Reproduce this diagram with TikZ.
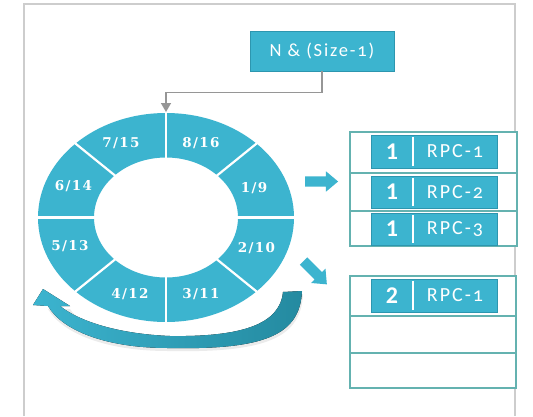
\documentclass[tikz,border=0pt]{standalone}
\usepackage{fontspec}
\usetikzlibrary{arrows.meta,shapes.arrows}

\newfontfamily\capfont{Carlito}[Numbers=OldStyle,LetterSpace=10]
\newfontfamily\numfont{Carlito}
\newfontfamily\segfont{DejaVu Serif}[LetterSpace=10]

\definecolor{ringblue}{RGB}{60,180,207}
\definecolor{boxedge}{RGB}{45,150,175}
\definecolor{arrowdark}{RGB}{36,138,160}
\definecolor{tableedge}{RGB}{100,178,176}
\definecolor{framegray}{RGB}{205,205,205}
\definecolor{conngray}{RGB}{150,150,150}

\tikzset{
  topbox/.style={fill=ringblue, draw=boxedge, line width=0.8pt,
    minimum width=144pt, minimum height=40pt, inner sep=0pt,
    text=white, font=\capfont\fontsize{18.5}{20}\selectfont},
  conn/.style={draw=conngray, line width=1.4pt,
    -{Triangle[width=10pt,length=9pt]}},
  seglabel/.style={text=white, inner sep=0pt, anchor=base,
    font=\segfont\bfseries\fontsize{13.5}{15}\selectfont},
  segline/.style={white, line width=2.2pt},
  blockarrow/.style={single arrow, fill=ringblue, draw=none,
    minimum height=33pt, inner xsep=0pt, inner ysep=5pt,
    single arrow head extend=5pt, single arrow tip angle=80},
  tablebox/.style={draw=tableedge, line width=1.5pt, fill=white, inner sep=0pt},
  tableline/.style={draw=tableedge, line width=1.2pt},
  rowbox/.style={fill=ringblue, draw=boxedge, line width=0.8pt,
    minimum width=126pt, inner sep=0pt},
  numcell/.style={text=white, inner sep=0pt, minimum width=42pt,
    font=\numfont\bfseries\fontsize{24}{26}\selectfont},
  rpccell/.style={text=white, inner sep=0pt,
    font=\capfont\fontsize{20}{22}\selectfont},
  cellsplit/.style={white, line width=2pt}
}

\begin{document}
\begin{tikzpicture}[x=1pt,y=-1pt]
\useasboundingbox (0,0) rectangle (533,416);
\fill[white] (0,0) rectangle (533,416);

% page frame
\draw[framegray, line width=2pt] (24,416) -- (24,4) -- (515,4) -- (515,416);

% ring of eight segments
\fill[ringblue, even odd rule]
  (166,217.5) ellipse [x radius=128pt, y radius=104.5pt]
  (166,217.5) ellipse [x radius=72pt, y radius=60pt];
\foreach \a in {0,45,...,315}
  \draw[segline] ({166+68*cos(\a)},{217.5+56*sin(\a)})
              -- ({166+131*cos(\a)},{217.5+107*sin(\a)});

\node[seglabel] (s8) at (201,147) {8/16};
\node[seglabel] (s7) at (121,147) {7/15};
\node[seglabel] (s6) at (73.5,190) {6/14};
\node[seglabel] (s1) at (254,192) {1/9};
\node[seglabel] (s5) at (70,250) {5/13};
\node[seglabel] (s2) at (256.5,252) {2/10};
\node[seglabel] (s4) at (130,298) {4/12};
\node[seglabel] (s3) at (201,298) {3/11};

% curved return arrow under the ring
\fill[black, opacity=0.08]
  (303,294) .. controls (301,338) and (266,353) .. (168,351)
  .. controls (105,351) and (62,333) .. (48,309) -- (70,309)
  .. controls (80,325) and (120,339) .. (170,339)
  .. controls (240,340) and (280,328) .. (284,295) -- cycle;
\fill[left color=ringblue, middle color=ringblue!75!arrowdark, right color=arrowdark]
  (302,291) .. controls (300,335) and (265,350) .. (168,348)
  .. controls (105,348) and (62,330) .. (48,306)
  -- (33,305) -- (43,289) -- (70,306) -- (60,306)
  .. controls (80,322) and (120,334) .. (170,336)
  .. controls (240,337) and (280,325) .. (283,292) -- cycle;

% top box and its connector to the ring
\node[topbox] (top) at (322,51) {N \& (Size-1)};
\coordinate (ringtop) at (166,112);
\draw[conn] (top.south) -- ++(0,21) -| (ringtop);

% block arrows towards the tables
\node[blockarrow] (ar1) at (318.5,181.5) {};
\node[blockarrow, rotate=-45] (ar2) at (313,270.5) {};

% first table
\node[tablebox, minimum width=167pt, minimum height=114pt] (t1) at (433.5,189) {};
\coordinate (y1) at (0,173);
\coordinate (y2) at (0,211);
\draw[tableline] (t1.west |- y1) -- (t1.east |- y1);
\draw[tableline] (t1.west |- y2) -- (t1.east |- y2);

\node[rowbox, minimum height=33pt] (b1) at (434,151.5) {};
\node[numcell, minimum height=29pt] (n1) at (392,151.5) {1};
\node[rpccell] (c1) at (455,151.5) {RPC-1};
\draw[cellsplit] (n1.north east) -- (n1.south east);

\node[rowbox, minimum height=32pt] (b2) at (434,192) {};
\node[numcell, minimum height=28pt] (n2) at (392,192) {1};
\node[rpccell] (c2) at (455,192) {RPC-2};
\draw[cellsplit] (n2.north east) -- (n2.south east);

\node[rowbox, minimum height=32pt] (b3) at (434,229) {};
\node[numcell, minimum height=28pt] (n3) at (392,229) {1};
\node[rpccell] (c3) at (455,229) {RPC-3};
\draw[cellsplit] (n3.north east) -- (n3.south east);

% second table
\node[tablebox, minimum width=166pt, minimum height=112pt] (t2) at (433,332) {};
\coordinate (y3) at (0,316);
\coordinate (y4) at (0,353);
\draw[tableline] (t2.west |- y3) -- (t2.east |- y3);
\draw[tableline] (t2.west |- y4) -- (t2.east |- y4);

\node[rowbox, minimum height=33pt] (b4) at (434,295.5) {};
\node[numcell, minimum height=29pt] (n4) at (392,295.5) {2};
\node[rpccell] (c4) at (455,295.5) {RPC-1};
\draw[cellsplit] (n4.north east) -- (n4.south east);
\end{tikzpicture}
\end{document}
